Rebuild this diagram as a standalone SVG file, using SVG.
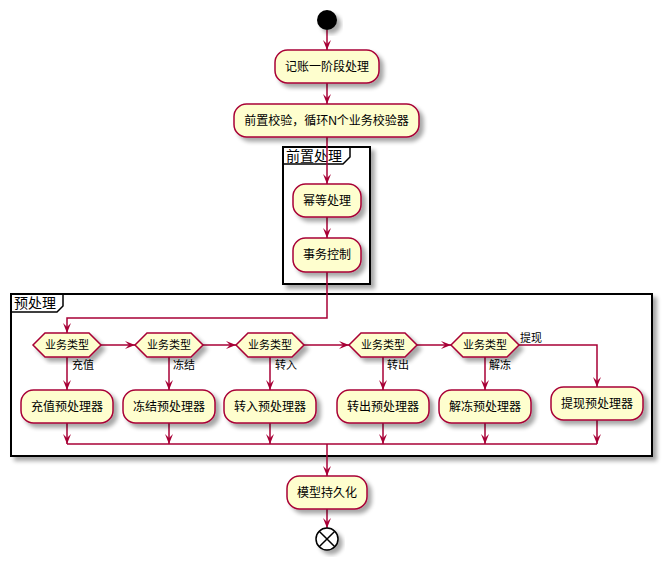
<svg xmlns="http://www.w3.org/2000/svg" width="670" height="567" viewBox="0 0 670 567">
<style>
.n{fill:#FEFECE;stroke:#A80036;stroke-width:1.5;filter:url(#sh)}
.g{fill:none;stroke:#000;stroke-width:2;filter:url(#sh)}
.c{fill:none;stroke:#A80036;stroke-width:1.5}
.t{font-family:"Liberation Sans","Noto Sans CJK SC",sans-serif;font-size:12px;fill:#000;text-anchor:middle;dominant-baseline:central}
.d{font-family:"Liberation Sans","Noto Sans CJK SC",sans-serif;font-size:11px;fill:#000;text-anchor:middle;dominant-baseline:central}
.l{font-family:"Liberation Sans","Noto Sans CJK SC",sans-serif;font-size:11px;fill:#000}
.gt{font-family:"Liberation Sans","Noto Sans CJK SC",sans-serif;font-size:14px;fill:#000}
</style>
<defs>
<filter id="sh" x="-20%" y="-20%" width="150%" height="150%">
<feGaussianBlur in="SourceAlpha" stdDeviation="2"/>
<feOffset dx="4" dy="4" result="b"/>
<feComponentTransfer><feFuncA type="linear" slope="0.35"/></feComponentTransfer>
<feMerge><feMergeNode/><feMergeNode in="SourceGraphic"/></feMerge>
</filter>
<marker id="ah" viewBox="0 0 10 8" refX="10" refY="4" markerWidth="10" markerHeight="8" markerUnits="userSpaceOnUse" orient="auto">
<path d="M0,0 L10,4 L0,8 L4,4 Z" fill="#A80036"/>
</marker>
</defs>
<rect width="670" height="567" fill="#fff"/>

<g id="grp-preprocess">
<rect class="g" x="11" y="294" width="641" height="162" fill="#fff" style="fill:#fff"/>
<path d="M11,312 L57,312 L63,306 L63,294" fill="none" stroke="#000" stroke-width="1.5"/>
<text class="gt" x="14" y="308">预处理</text>
</g>

<g id="grp-front">
<rect class="g" x="283" y="147" width="87" height="137" style="fill:#fff"/>
<path d="M283,164 L343,164 L350,157 L350,147" fill="none" stroke="#000" stroke-width="1.5"/>
<text class="gt" x="286" y="161">前置处理</text>
</g>

<g id="connectors">
<path class="c" d="M327,30 L327,50" marker-end="url(#ah)"/>
<path class="c" d="M327,83 L327,104" marker-end="url(#ah)"/>
<path class="c" d="M327,137 L327,184" marker-end="url(#ah)"/>
<path class="c" d="M327,217 L327,238" marker-end="url(#ah)"/>
<path class="c" d="M327,272 L327,318 L67,318 L67,333" marker-end="url(#ah)"/>
<path class="c" d="M101,345 L135,345" marker-end="url(#ah)"/>
<path class="c" d="M203,345 L236,345" marker-end="url(#ah)"/>
<path class="c" d="M304,345 L349,345" marker-end="url(#ah)"/>
<path class="c" d="M417,345 L451,345" marker-end="url(#ah)"/>
<path class="c" d="M519,345 L597,345 L597,387" marker-end="url(#ah)"/>
<path class="c" d="M67,357 L67,390" marker-end="url(#ah)"/>
<path class="c" d="M169,357 L169,390" marker-end="url(#ah)"/>
<path class="c" d="M270,357 L270,390" marker-end="url(#ah)"/>
<path class="c" d="M383,357 L383,390" marker-end="url(#ah)"/>
<path class="c" d="M485,357 L485,390" marker-end="url(#ah)"/>
<path class="c" d="M67,423 L67,444" marker-end="url(#ah)"/>
<path class="c" d="M169,423 L169,444" marker-end="url(#ah)"/>
<path class="c" d="M270,423 L270,444" marker-end="url(#ah)"/>
<path class="c" d="M383,423 L383,444" marker-end="url(#ah)"/>
<path class="c" d="M485,423 L485,444" marker-end="url(#ah)"/>
<path class="c" d="M597,420 L597,444" marker-end="url(#ah)"/>
<path class="c" d="M67,444 L597,444"/>
<path class="c" d="M327,444 L327,476" marker-end="url(#ah)"/>
<path class="c" d="M327,509 L327,528" marker-end="url(#ah)"/>
<text class="l" x="72" y="369">充值</text>
<text class="l" x="173" y="369">冻结</text>
<text class="l" x="275" y="369">转入</text>
<text class="l" x="387" y="369">转出</text>
<text class="l" x="489" y="369">解冻</text>
<text class="l" x="520" y="342">提现</text>
</g>

<g id="start"><circle cx="327" cy="20" r="10" fill="#000" filter="url(#sh)"/></g>

<g id="n1"><rect class="n" x="275" y="50" width="104" height="33" rx="12.5"/><text class="t" x="327" y="66.5">记账一阶段处理</text></g>
<g id="n2"><rect class="n" x="234" y="104" width="185" height="33" rx="12.5"/><text class="t" x="326.5" y="120.5">前置校验，循环N个业务校验器</text></g>
<g id="n3"><rect class="n" x="293" y="184" width="68" height="33" rx="12.5"/><text class="t" x="327" y="200.5">幂等处理</text></g>
<g id="n4"><rect class="n" x="293" y="238" width="68" height="34" rx="12.5"/><text class="t" x="327" y="255">事务控制</text></g>

<g id="d1"><polygon class="n" points="45,333 89,333 101,345 89,357 45,357 33,345"/><text class="d" x="67" y="345">业务类型</text></g>
<g id="d2"><polygon class="n" points="147,333 191,333 203,345 191,357 147,357 135,345"/><text class="d" x="169" y="345">业务类型</text></g>
<g id="d3"><polygon class="n" points="248,333 292,333 304,345 292,357 248,357 236,345"/><text class="d" x="270" y="345">业务类型</text></g>
<g id="d4"><polygon class="n" points="361,333 405,333 417,345 405,357 361,357 349,345"/><text class="d" x="383" y="345">业务类型</text></g>
<g id="d5"><polygon class="n" points="463,333 507,333 519,345 507,357 463,357 451,345"/><text class="d" x="485" y="345">业务类型</text></g>

<g id="p1"><rect class="n" x="21" y="390" width="92" height="33" rx="12.5"/><text class="t" x="67" y="406.5">充值预处理器</text></g>
<g id="p2"><rect class="n" x="123" y="390" width="92" height="33" rx="12.5"/><text class="t" x="169" y="406.5">冻结预处理器</text></g>
<g id="p3"><rect class="n" x="224" y="390" width="92" height="33" rx="12.5"/><text class="t" x="270" y="406.5">转入预处理器</text></g>
<g id="p4"><rect class="n" x="337" y="390" width="92" height="33" rx="12.5"/><text class="t" x="383" y="406.5">转出预处理器</text></g>
<g id="p5"><rect class="n" x="439" y="390" width="92" height="33" rx="12.5"/><text class="t" x="485" y="406.5">解冻预处理器</text></g>
<g id="p6"><rect class="n" x="551" y="387" width="92" height="33" rx="12.5"/><text class="t" x="597" y="403.5">提现预处理器</text></g>

<g id="n5"><rect class="n" x="287" y="476" width="80" height="33" rx="12.5"/><text class="t" x="327" y="492.5">模型持久化</text></g>

<g id="end" filter="url(#sh)">
<circle cx="327" cy="539" r="11" fill="#fff" stroke="#000" stroke-width="1.5"/>
<path d="M319.2,531.2 L334.8,546.8 M334.8,531.2 L319.2,546.8" stroke="#000" stroke-width="1.5"/>
</g>
</svg>
